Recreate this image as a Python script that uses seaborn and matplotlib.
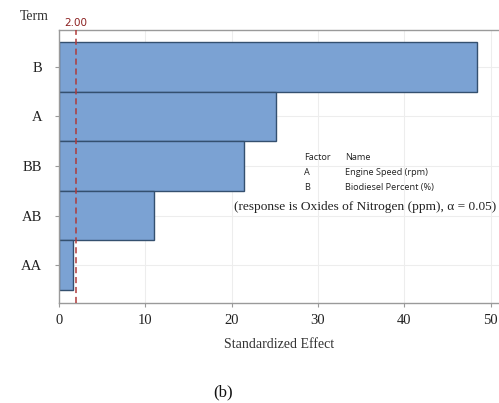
import matplotlib
matplotlib.use('Agg')
import matplotlib.pyplot as plt
import seaborn as sns
import pandas as pd

# 数据 (Pareto chart of standardized effects)
terms = ['B', 'A', 'BB', 'AB', 'AA']
effects = [48.45, 25.2, 21.5, 11.05, 1.7]
ref_value = 2.00
factor_codes = ['A', 'B']
factor_names = ['Engine Speed (rpm)', 'Biodiesel Percent (%)']

sns.set_style('white')
plt.rcParams['font.family'] = ['Liberation Serif', 'DejaVu Serif']

W, H = 499, 403
fig = plt.figure(figsize=(W / 100, H / 100), dpi=100)
ax = fig.add_axes([58.7 / W, (H - 303) / H, (W - 58.7) / W, (303 - 29.5) / H])

df = pd.DataFrame({'Term': terms, 'Effect': effects})
sns.barplot(data=df, x='Effect', y='Term', orient='h', width=1.0,
            color='#7BA2D3', saturation=1, edgecolor='#34506F', linewidth=1.0, ax=ax)

ax.set_xlim(0, 50.96)
ax.set_ylim(len(terms) - 0.5 + 0.26, -0.5 - 0.25)
ax.set_xticks([0, 10, 20, 30, 40, 50])
ax.grid(True, color='#EDEDED', linewidth=0.8)
ax.set_axisbelow(True)

ax.axvline(ref_value, color='#B03A3A', linestyle=(0, (4, 2.5)), linewidth=1.1, zorder=5)

for side in ['left', 'bottom', 'top']:
    ax.spines[side].set_color('#9A9A9A')
    ax.spines[side].set_linewidth(1.0)
ax.spines['right'].set_visible(False)

ax.tick_params(axis='both', which='both', length=3, color='#9A9A9A', labelsize=10.5,
               labelcolor='#222222', left=True, bottom=True)
ax.tick_params(axis='y', pad=9)
ax.tick_params(axis='x', pad=5)
ax.set_xlabel('Standardized Effect', fontsize=10, color='#333333', labelpad=8)
ax.set_ylabel('')

# 文本
fig.text(20 / W, 1 - 17 / H, 'Term', fontsize=10, color='#333333', va='center', ha='left')
ax.text(ref_value, 1.005, '2.00', transform=ax.get_xaxis_transform(), color='#8B2020',
        fontsize=7.5, ha='center', va='bottom', family=['DejaVu Sans'])

sans = ['Open Sans', 'DejaVu Sans']
fig.text(304 / W, 1 - 158 / H, 'Factor', fontsize=6.6, family=sans, va='center', color='#222222')
fig.text(345 / W, 1 - 158 / H, 'Name', fontsize=6.6, family=sans, va='center', color='#222222')
for i, (c, n) in enumerate(zip(factor_codes, factor_names)):
    y = 1 - (173 + 15 * i) / H
    fig.text(304 / W, y, c, fontsize=6.6, family=sans, va='center', color='#222222')
    fig.text(345 / W, y, n, fontsize=6.6, family=sans, va='center', color='#222222')

fig.text(234 / W, 1 - 207 / H, '(response is Oxides of Nitrogen (ppm), \u03b1 = 0.05)',
         fontsize=9.6, va='center', ha='left', color='#222222')

fig.text(223 / W, 1 - 392 / H, '(b)', fontsize=12, ha='center', va='center', color='#111111')

fig.savefig('out.png', dpi=100)
